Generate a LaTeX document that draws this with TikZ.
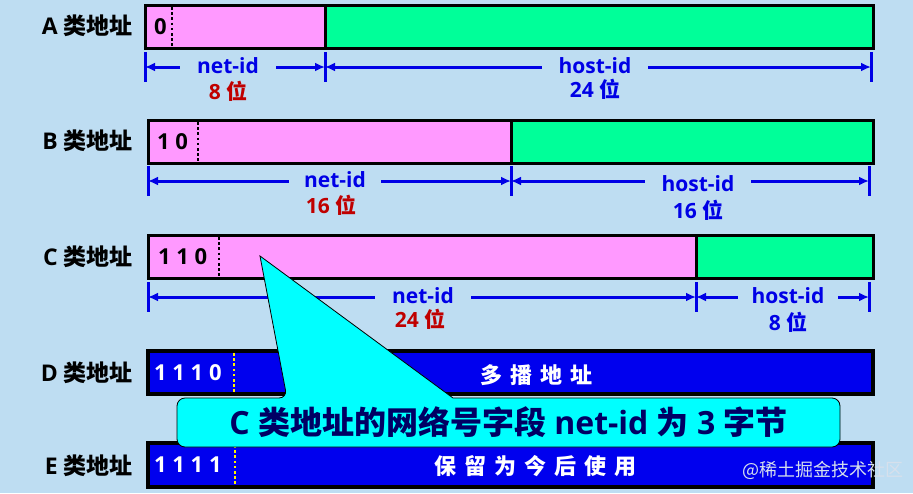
\documentclass[tikz,border=0pt]{standalone}
\usepackage{fontspec}
\setmainfont{Open Sans}
\newfontfamily\cjk{Noto Sans CJK SC}
\usetikzlibrary{positioning,arrows.meta,calc}
\definecolor{bgblue}{RGB}{190,221,242}
\definecolor{netpink}{RGB}{255,153,255}
\definecolor{hostgreen}{RGB}{0,255,153}
\definecolor{dimblue}{RGB}{0,0,230}
\definecolor{bitred}{RGB}{192,0,0}
\definecolor{barblue}{RGB}{0,0,238}
\definecolor{notecyan}{RGB}{0,255,255}
\definecolor{notenavy}{RGB}{0,0,100}
\definecolor{markgray}{RGB}{214,224,236}
\newcommand{\zh}[1]{{\cjk #1}}

\begin{document}
\begin{tikzpicture}[x=1pt,y=-1pt,
  field/.style={draw=black,line width=3pt,inner sep=0pt,outer sep=0pt,
    minimum height=43pt,anchor=north west},
  bitsep/.style={line width=2.6pt,dash pattern=on 2.6pt off 2.6pt},
  rowlabel/.style={font=\bfseries\fontsize{23}{26}\selectfont,anchor=east,inner sep=0pt},
  bits/.style={font=\bfseries\fontsize{22}{26}\selectfont,anchor=west,inner sep=0pt},
  tick/.style={dimblue,line width=3pt},
  dim/.style={dimblue,line width=3pt,{Latex[length=10pt,width=9pt]}-{Latex[length=10pt,width=9pt]}},
  idlabel/.style={fill=bgblue,text=dimblue,font=\bfseries\fontsize{21}{24}\selectfont,
    inner xsep=17pt,inner ysep=0pt,text height=14pt,text depth=2pt},
  count/.style={font=\bfseries\fontsize{21}{24}\selectfont,inner sep=0pt},
  notebox/.style={draw=black,line width=0.8pt,fill=notecyan},
  notetext/.style={text=notenavy,font=\bfseries\fontsize{32}{36}\selectfont}
]
\fill[bgblue] (0,0) rectangle (913,493);
\useasboundingbox (0,0) rectangle (913,493);

% row labels
\node[rowlabel] (aLbl) at (133,26) {A \zh{类地址}};
\node[rowlabel] (bLbl) at (133,141) {B \zh{类地址}};
\node[rowlabel] (cLbl) at (133,257) {C \zh{类地址}};
\node[rowlabel] (dLbl) at (133,373) {D \zh{类地址}};
\node[rowlabel] (eLbl) at (133,466) {E \zh{类地址}};

% class A
\node[field,fill=netpink,minimum width=180pt] (aNet) at (145,5) {};
\node[field,fill=hostgreen,minimum width=548pt,right=0pt of aNet] (aHost) {};
\draw[bitsep] ($(aNet.north west)+(27,2)$) -- ($(aNet.south west)+(27,-2)$);
\node[bits] (aBits) at ($(aNet.west)+(9,0)$) {0};

% class B
\node[field,fill=netpink,minimum width=363pt] (bNet) at (148,120) {};
\node[field,fill=hostgreen,minimum width=362pt,right=0pt of bNet] (bHost) {};
\draw[bitsep] ($(bNet.north west)+(50,2)$) -- ($(bNet.south west)+(50,-2)$);
\node[bits] (bBits) at ($(bNet.west)+(9,0)$) {1 0};

% class C
\node[field,fill=netpink,minimum width=548pt] (cNet) at (148,235) {};
\node[field,fill=hostgreen,minimum width=177pt,right=0pt of cNet] (cHost) {};
\draw[bitsep] ($(cNet.north west)+(71,2)$) -- ($(cNet.south west)+(71,-2)$);
\node[bits] (cBits) at ($(cNet.west)+(10,0)$) {1 1 0};

% class D
\node[field,fill=barblue,minimum width=725pt,line width=3.5pt] (dBar) at (148,351) {};
\draw[bitsep,yellow] ($(dBar.north west)+(86,2)$) -- ($(dBar.south west)+(86,-2)$);
\node[bits,text=white] (dBits) at ($(dBar.west)+(6,0)$) {1 1 1 0};
\node[bits,text=white,anchor=center] (dUse) at ($(dBar.center)+(26,3)$)
  {\zh{多\hspace{8pt}播\hspace{8pt}地\hspace{8pt}址}};

% class E
\node[field,fill=barblue,minimum width=725pt,minimum height=44pt,line width=3.5pt] (eBar) at (148,443) {};
\draw[bitsep,yellow] ($(eBar.north west)+(87,2)$) -- ($(eBar.south west)+(87,-2)$);
\node[bits,text=white] (eBits) at ($(eBar.west)+(6,0)$) {1 1 1 1};
\node[bits,text=white,anchor=center] (eUse) at ($(eBar.center)+(25,1)$)
  {\zh{保\hspace{8pt}留\hspace{8pt}为\hspace{8pt}今\hspace{8pt}后\hspace{8pt}使\hspace{8pt}用}};

% dimension lines
\coordinate (aT1) at ($(aNet.south west)+(0,19)$);
\coordinate (aT2) at ($(aNet.south east)+(0,19)$);
\coordinate (aT3) at ($(aHost.south east)+(-2,19)$);
\coordinate (bT1) at ($(bNet.south west)+(0,18)$);
\coordinate (bT2) at ($(bNet.south east)+(0,18)$);
\coordinate (bT3) at ($(bHost.south east)+(-4,18)$);
\coordinate (cT1) at ($(cNet.south west)+(0,19)$);
\coordinate (cT2) at ($(cNet.south east)+(0,19)$);
\coordinate (cT3) at ($(cHost.south east)+(-4,19)$);
\foreach \t in {aT1,aT2,aT3,bT1,bT2,bT3,cT1,cT2,cT3}
  \draw[tick] ($(\t)+(0,-15)$) -- ($(\t)+(0,15)$);
\draw[dim] (aT1) -- (aT2);
\draw[dim] (aT2) -- (aT3);
\draw[dim] (bT1) -- (bT2);
\draw[dim] (bT2) -- (bT3);
\draw[dim] (cT1) -- (cT2);
\draw[dim] (cT2) -- (cT3);

\node[idlabel] (aNetId) at (228,67) {net-id};
\node[count,text=bitred] (aNetLen) at (228,91) {8 \zh{位}};
\node[idlabel] (aHostId) at (595,67) {host-id};
\node[count,text=dimblue] (aHostLen) at (595,89) {24 \zh{位}};

\node[idlabel,inner xsep=15pt] (bNetId) at (335,181) {net-id};
\node[count,text=bitred] (bNetLen) at (331,205) {16 \zh{位}};
\node[idlabel] (bHostId) at (698,185) {host-id};
\node[count,text=dimblue] (bHostLen) at (698,210) {16 \zh{位}};

\node[idlabel] (cNetId) at (423,297) {net-id};
\node[count,text=bitred] (cNetLen) at (420,319) {24 \zh{位}};
\node[idlabel,inner xsep=14pt] (cHostId) at (788,297) {host-id};
\node[count,text=dimblue] (cHostLen) at (788,322) {8 \zh{位}};

% callout
\coordinate (noteNW) at (177,398);
\coordinate (noteSE) at (840,447);
\coordinate (tip) at (260,256);
\coordinate (noteL) at (287,398);
\coordinate (noteR) at (453,398);
\draw[notebox] (noteR) [rounded corners=8pt] -- (noteSE |- noteNW) -- (noteSE)
  -- (noteNW |- noteSE) -- (noteNW) -- (noteL) [sharp corners] -- (tip) -- cycle;
\node[notetext] (note) at ($(noteNW)!0.5!(noteSE)$)
  {C \zh{类地址的网络号字段} net-id \zh{为} 3 \zh{字节}};

\node[text=markgray,font=\cjk\fontsize{18}{20}\selectfont,anchor=east] (mark) at (907,470) {@稀土掘金技术社区};
\end{tikzpicture}
\end{document}
